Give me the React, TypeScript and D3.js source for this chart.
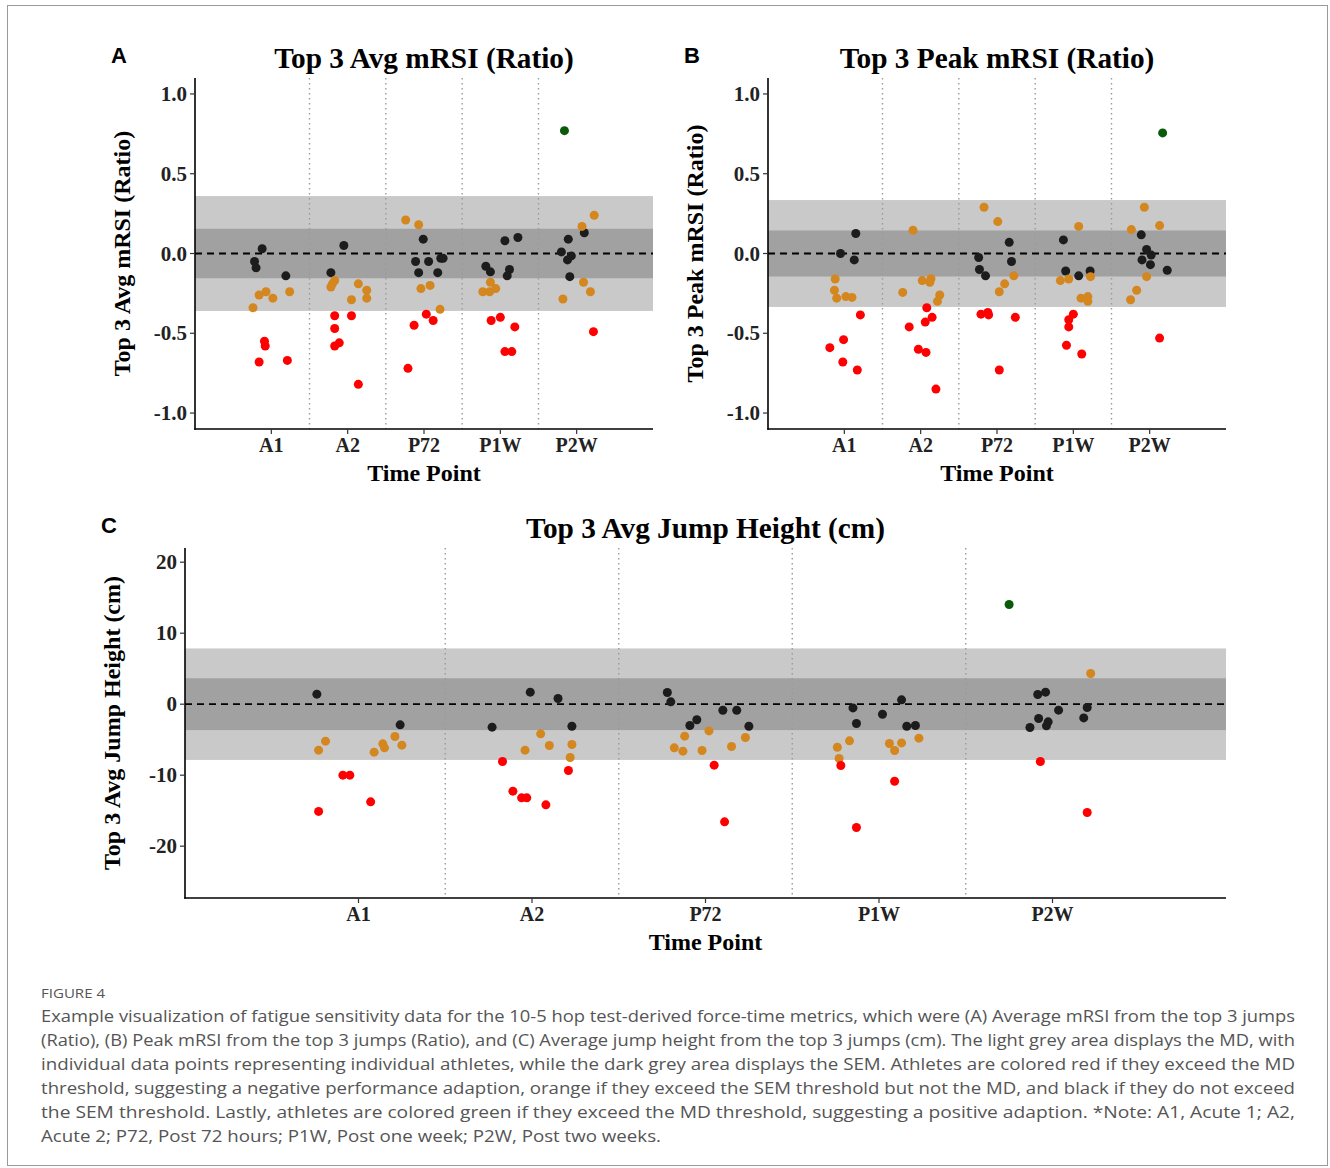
import React from "react";
import * as d3 from "d3";

type Status = "neg" | "sem" | "ns" | "pos";
type Pt = [string, number, number, Status];

const timePoints = ["A1", "A2", "P72", "P1W", "P2W"];

// [time point, horizontal jitter (category units), value, status]
const avgMrsiPoints: Pt[] = [
  ["A1", -0.12, 0.03, "ns"], ["A1", -0.22, -0.05, "ns"], ["A1", -0.2, -0.09, "ns"], ["A1", 0.19, -0.14, "ns"],
  ["A1", -0.24, -0.34, "sem"], ["A1", -0.16, -0.26, "sem"], ["A1", -0.07, -0.24, "sem"], ["A1", 0.02, -0.28, "sem"], ["A1", 0.24, -0.24, "sem"],
  ["A1", -0.09, -0.55, "neg"], ["A1", -0.08, -0.58, "neg"], ["A1", -0.16, -0.68, "neg"], ["A1", 0.21, -0.67, "neg"],
  ["A2", -0.22, -0.12, "ns"], ["A2", -0.05, 0.05, "ns"],
  ["A2", -0.17, -0.17, "sem"], ["A2", -0.2, -0.19, "sem"], ["A2", -0.22, -0.21, "sem"], ["A2", 0.14, -0.19, "sem"], ["A2", 0.05, -0.29, "sem"], ["A2", 0.25, -0.23, "sem"], ["A2", 0.25, -0.28, "sem"],
  ["A2", -0.17, -0.39, "neg"], ["A2", -0.17, -0.47, "neg"], ["A2", 0.05, -0.39, "neg"], ["A2", -0.17, -0.58, "neg"], ["A2", -0.11, -0.56, "neg"], ["A2", 0.14, -0.82, "neg"],
  ["P72", -0.24, 0.21, "sem"], ["P72", -0.07, 0.18, "sem"],
  ["P72", -0.01, 0.09, "ns"], ["P72", -0.11, -0.05, "ns"], ["P72", 0.06, -0.05, "ns"], ["P72", 0.22, -0.03, "ns"], ["P72", 0.25, -0.03, "ns"], ["P72", -0.07, -0.12, "ns"], ["P72", 0.18, -0.12, "ns"],
  ["P72", -0.04, -0.22, "sem"], ["P72", 0.08, -0.2, "sem"], ["P72", 0.21, -0.35, "sem"],
  ["P72", 0.03, -0.38, "neg"], ["P72", 0.12, -0.42, "neg"], ["P72", -0.13, -0.45, "neg"], ["P72", -0.21, -0.72, "neg"],
  ["P1W", 0.06, 0.08, "ns"], ["P1W", 0.23, 0.1, "ns"], ["P1W", -0.19, -0.08, "ns"], ["P1W", -0.13, -0.115, "ns"], ["P1W", 0.12, -0.1, "ns"], ["P1W", 0.09, -0.14, "ns"],
  ["P1W", -0.13, -0.18, "sem"], ["P1W", -0.23, -0.24, "sem"], ["P1W", -0.14, -0.24, "sem"], ["P1W", -0.06, -0.22, "sem"],
  ["P1W", -0.12, -0.42, "neg"], ["P1W", 0.0, -0.4, "neg"], ["P1W", 0.19, -0.46, "neg"], ["P1W", 0.06, -0.615, "neg"], ["P1W", 0.15, -0.615, "neg"],
  ["P2W", -0.16, 0.77, "pos"], ["P2W", 0.23, 0.24, "sem"], ["P2W", 0.07, 0.17, "sem"],
  ["P2W", 0.1, 0.13, "ns"], ["P2W", -0.11, 0.09, "ns"], ["P2W", -0.2, 0.01, "ns"], ["P2W", -0.07, -0.015, "ns"], ["P2W", -0.12, -0.04, "ns"], ["P2W", -0.09, -0.145, "ns"],
  ["P2W", 0.09, -0.18, "sem"], ["P2W", 0.18, -0.24, "sem"], ["P2W", -0.18, -0.285, "sem"],
  ["P2W", 0.22, -0.49, "neg"],
];

const peakMrsiPoints: Pt[] = [
  ["A1", -0.05, 0.0, "ns"], ["A1", 0.15, 0.125, "ns"], ["A1", 0.13, -0.04, "ns"],
  ["A1", -0.12, -0.16, "sem"], ["A1", -0.13, -0.23, "sem"], ["A1", -0.1, -0.28, "sem"], ["A1", 0.02, -0.27, "sem"], ["A1", 0.1, -0.275, "sem"],
  ["A1", 0.21, -0.385, "neg"], ["A1", -0.01, -0.54, "neg"], ["A1", -0.19, -0.59, "neg"], ["A1", -0.02, -0.68, "neg"], ["A1", 0.17, -0.73, "neg"],
  ["A2", -0.1, 0.146, "sem"], ["A2", -0.235, -0.244, "sem"], ["A2", 0.02, -0.17, "sem"], ["A2", 0.135, -0.158, "sem"], ["A2", 0.12, -0.18, "sem"], ["A2", 0.25, -0.26, "sem"], ["A2", 0.22, -0.3, "sem"],
  ["A2", 0.08, -0.34, "neg"], ["A2", 0.15, -0.4, "neg"], ["A2", 0.06, -0.43, "neg"], ["A2", -0.15, -0.46, "neg"], ["A2", -0.03, -0.6, "neg"], ["A2", 0.07, -0.62, "neg"], ["A2", 0.2, -0.85, "neg"],
  ["P72", -0.17, 0.29, "sem"], ["P72", 0.01, 0.2, "sem"],
  ["P72", 0.16, 0.07, "ns"], ["P72", -0.24, -0.025, "ns"], ["P72", 0.19, -0.05, "ns"], ["P72", -0.23, -0.1, "ns"], ["P72", -0.15, -0.14, "ns"],
  ["P72", 0.22, -0.14, "sem"], ["P72", 0.1, -0.19, "sem"], ["P72", 0.03, -0.24, "sem"],
  ["P72", -0.21, -0.38, "neg"], ["P72", -0.12, -0.37, "neg"], ["P72", -0.11, -0.385, "neg"], ["P72", 0.24, -0.4, "neg"], ["P72", 0.03, -0.73, "neg"],
  ["P1W", 0.07, 0.17, "sem"],
  ["P1W", -0.13, 0.085, "ns"], ["P1W", -0.1, -0.11, "ns"], ["P1W", 0.07, -0.14, "ns"], ["P1W", 0.22, -0.11, "ns"],
  ["P1W", -0.17, -0.17, "sem"], ["P1W", -0.06, -0.16, "sem"], ["P1W", 0.225, -0.145, "sem"], ["P1W", 0.1, -0.28, "sem"], ["P1W", 0.19, -0.27, "sem"], ["P1W", 0.19, -0.3, "sem"],
  ["P1W", 0.0, -0.38, "neg"], ["P1W", -0.06, -0.415, "neg"], ["P1W", -0.06, -0.46, "neg"], ["P1W", -0.09, -0.575, "neg"], ["P1W", 0.11, -0.63, "neg"],
  ["P2W", 0.17, 0.756, "pos"], ["P2W", -0.07, 0.29, "sem"], ["P2W", -0.24, 0.15, "sem"], ["P2W", 0.13, 0.175, "sem"],
  ["P2W", -0.11, 0.117, "ns"], ["P2W", -0.04, 0.025, "ns"], ["P2W", 0.02, -0.01, "ns"], ["P2W", -0.1, -0.04, "ns"], ["P2W", 0.01, -0.07, "ns"], ["P2W", 0.23, -0.105, "ns"],
  ["P2W", -0.04, -0.145, "sem"], ["P2W", -0.17, -0.23, "sem"], ["P2W", -0.25, -0.29, "sem"],
  ["P2W", 0.13, -0.53, "neg"],
];

const jumpHeightPoints: Pt[] = [
  ["A1", -0.24, 1.41, "ns"], ["A1", 0.24, -2.91, "ns"],
  ["A1", -0.23, -6.48, "sem"], ["A1", -0.19, -5.21, "sem"], ["A1", 0.09, -6.76, "sem"], ["A1", 0.14, -5.59, "sem"], ["A1", 0.15, -6.15, "sem"], ["A1", 0.21, -4.55, "sem"], ["A1", 0.25, -5.77, "sem"],
  ["A1", -0.09, -10.0, "neg"], ["A1", -0.05, -10.0, "neg"], ["A1", 0.07, -13.76, "neg"], ["A1", -0.23, -15.1, "neg"],
  ["A2", -0.23, -3.24, "ns"], ["A2", -0.01, 1.69, "ns"], ["A2", 0.15, 0.8, "ns"], ["A2", 0.23, -3.1, "ns"],
  ["A2", -0.04, -6.48, "sem"], ["A2", 0.05, -4.18, "sem"], ["A2", 0.1, -5.82, "sem"], ["A2", 0.23, -5.68, "sem"], ["A2", 0.22, -7.51, "sem"],
  ["A2", -0.17, -8.08, "neg"], ["A2", -0.11, -12.25, "neg"], ["A2", -0.06, -13.19, "neg"], ["A2", -0.03, -13.19, "neg"], ["A2", 0.08, -14.18, "neg"], ["A2", 0.21, -9.34, "neg"],
  ["P72", -0.22, 1.64, "ns"], ["P72", -0.2, 0.33, "ns"], ["P72", -0.09, -3.0, "ns"], ["P72", -0.05, -2.2, "ns"], ["P72", 0.1, -0.85, "ns"], ["P72", 0.18, -0.85, "ns"], ["P72", 0.25, -3.1, "ns"],
  ["P72", -0.18, -6.15, "sem"], ["P72", -0.13, -6.62, "sem"], ["P72", -0.12, -4.5, "sem"], ["P72", -0.02, -6.53, "sem"], ["P72", 0.02, -3.76, "sem"], ["P72", 0.15, -5.96, "sem"], ["P72", 0.23, -4.69, "sem"],
  ["P72", 0.05, -8.59, "neg"], ["P72", 0.11, -16.57, "neg"],
  ["P1W", -0.15, -0.52, "ns"], ["P1W", -0.13, -2.72, "ns"], ["P1W", 0.02, -1.41, "ns"], ["P1W", 0.13, 0.61, "ns"], ["P1W", 0.16, -3.1, "ns"], ["P1W", 0.21, -3.0, "ns"],
  ["P1W", -0.24, -6.06, "sem"], ["P1W", -0.23, -7.65, "sem"], ["P1W", -0.17, -5.16, "sem"], ["P1W", 0.06, -5.54, "sem"], ["P1W", 0.09, -6.53, "sem"], ["P1W", 0.13, -5.45, "sem"], ["P1W", 0.23, -4.79, "sem"],
  ["P1W", -0.22, -8.64, "neg"], ["P1W", 0.09, -10.85, "neg"], ["P1W", -0.13, -17.37, "neg"],
  ["P2W", -0.25, 14.04, "pos"], ["P2W", 0.22, 4.32, "sem"],
  ["P2W", -0.085, 1.36, "ns"], ["P2W", -0.04, 1.69, "ns"], ["P2W", 0.035, -0.84, "ns"], ["P2W", -0.08, -2.01, "ns"], ["P2W", -0.025, -2.49, "ns"], ["P2W", -0.035, -3.05, "ns"], ["P2W", -0.13, -3.28, "ns"], ["P2W", 0.2, -0.46, "ns"], ["P2W", 0.18, -1.93, "ns"],
  ["P2W", -0.07, -8.08, "neg"], ["P2W", 0.2, -15.26, "neg"],
];

// thresholds: [MD, SEM]
const avgMrsiThresholds = [0.36, 0.155];
const peakMrsiThresholds = [0.335, 0.144];
const jumpHeightThresholds = [7.85, 3.65];

const mrsiTicks = [-1, -0.5, 0, 0.5, 1];
const jumpTicks = [-20, -10, 0, 10, 20];
const mrsiDomain = [-1.1, 1.1];
const jumpDomain = [-27.3, 22];

const captionLines = [
  "Example visualization of fatigue sensitivity data for the 10-5 hop test-derived force-time metrics, which were (A) Average mRSI from the top 3 jumps",
  "(Ratio), (B) Peak mRSI from the top 3 jumps (Ratio), and (C) Average jump height from the top 3 jumps (cm). The light grey area displays the MD, with",
  "individual data points representing individual athletes, while the dark grey area displays the SEM. Athletes are colored red if they exceed the MD",
  "threshold, suggesting a negative performance adaption, orange if they exceed the SEM threshold but not the MD, and black if they do not exceed",
  "the SEM threshold. Lastly, athletes are colored green if they exceed the MD threshold, suggesting a positive adaption. *Note: A1, Acute 1; A2,",
  "Acute 2; P72, Post 72 hours; P1W, Post one week; P2W, Post two weeks.",
];

const statusColor: Record<Status, string> = {
  neg: "#ff0000",
  sem: "#d4861f",
  ns: "#1c1c1c",
  pos: "#0a5a0a",
};

const SERIF = "'Liberation Serif', 'Times New Roman', serif";

interface PanelProps {
  left: number; right: number; top: number; bottom: number;
  domain: number[]; ticks: number[]; fmt: (v: number) => string;
  title: string; ylabel: string; letter: string;
  points: Pt[]; thresholds: number[];
}

function Panel(p: PanelProps) {
  const x = d3.scaleLinear().domain([0, timePoints.length + 1]).range([p.left, p.right]);
  const y = d3.scaleLinear().domain(p.domain).range([p.bottom, p.top]);
  const [md, sem] = p.thresholds;
  const cx = (p.left + p.right) / 2;
  const cy = (p.top + p.bottom) / 2;
  const order: Record<Status, number> = { ns: 0, sem: 1, neg: 2, pos: 3 };
  return (
    <g>
      <text x={p.left - 84} y={p.top - 15} fontFamily="'Liberation Sans', Arial, sans-serif" fontWeight="bold" fontSize={22}>{p.letter}</text>
      <text x={cx} y={p.top - 10} textAnchor="middle" fontFamily={SERIF} fontWeight="bold" fontSize={29.3}>{p.title}</text>
      <rect x={p.left} width={p.right - p.left} y={y(md)} height={y(-md) - y(md)} fill="#c9c9c9" />
      <rect x={p.left} width={p.right - p.left} y={y(sem)} height={y(-sem) - y(sem)} fill="#a1a1a1" />
      {d3.range(1, timePoints.length).map((i) => (
        <line key={i} x1={x(i + 0.5)} x2={x(i + 0.5)} y1={p.top} y2={p.bottom} stroke="#9a9a9a" strokeWidth={1.4} strokeDasharray="1.4 3.6" />
      ))}
      <line x1={p.left} x2={p.right} y1={y(0)} y2={y(0)} stroke="#000" strokeWidth={1.8} strokeDasharray="7 5" />
      {[...p.points].sort((a, b) => order[a[3]] - order[b[3]]).map((d, i) => (
        <circle key={i} cx={x(timePoints.indexOf(d[0]) + 1 + d[1])} cy={y(d[2])} r={4.5} fill={statusColor[d[3]]} />
      ))}
      <line x1={p.left} x2={p.left} y1={p.top} y2={p.bottom + 0.75} stroke="#000" strokeWidth={1.6} />
      <line x1={p.left - 0.75} x2={p.right} y1={p.bottom} y2={p.bottom} stroke="#000" strokeWidth={1.6} />
      {p.ticks.map((t) => (
        <g key={t}>
          <line x1={p.left - 5} x2={p.left} y1={y(t)} y2={y(t)} stroke="#333" strokeWidth={1.2} />
          <text x={p.left - 8} y={y(t) + 7} textAnchor="end" fontFamily={SERIF} fontWeight="bold" fontSize={21} fill="#222">{p.fmt(t)}</text>
        </g>
      ))}
      {timePoints.map((tp, i) => (
        <g key={tp}>
          <line x1={x(i + 1)} x2={x(i + 1)} y1={p.bottom} y2={p.bottom + 5} stroke="#333" strokeWidth={1.2} />
          <text x={x(i + 1)} y={p.bottom + 23} textAnchor="middle" fontFamily={SERIF} fontWeight="bold" fontSize={20} fill="#222">{tp}</text>
        </g>
      ))}
      <text x={cx} y={p.bottom + 52} textAnchor="middle" fontFamily={SERIF} fontWeight="bold" fontSize={24}>Time Point</text>
      <text transform={`translate(${p.left - 65},${cy}) rotate(-90)`} textAnchor="middle" fontFamily={SERIF} fontWeight="bold" fontSize={24}>{p.ylabel}</text>
    </g>
  );
}

export default function App() {
  const fmtMrsi = (v: number) => d3.format(".1f")(v).replace("−", "-");
  const fmtJump = (v: number) => d3.format("d")(v).replace("−", "-");
  return (
    <svg width={1330} height={1168} style={{ position: "absolute", left: 0, top: 0, background: "#fff" }}>
      <rect x={7.5} y={5.5} width={1320} height={1160} fill="#fff" stroke="#9a9a9a" strokeWidth={1} />
      <Panel left={195} right={653} top={78} bottom={429} domain={mrsiDomain} ticks={mrsiTicks} fmt={fmtMrsi}
        title="Top 3 Avg mRSI (Ratio)" ylabel="Top 3 Avg mRSI (Ratio)" letter="A" points={avgMrsiPoints} thresholds={avgMrsiThresholds} />
      <Panel left={768} right={1226} top={78} bottom={429} domain={mrsiDomain} ticks={mrsiTicks} fmt={fmtMrsi}
        title="Top 3 Peak mRSI (Ratio)" ylabel="Top 3 Peak mRSI (Ratio)" letter="B" points={peakMrsiPoints} thresholds={peakMrsiThresholds} />
      <Panel left={185} right={1226} top={548} bottom={898} domain={jumpDomain} ticks={jumpTicks} fmt={fmtJump}
        title="Top 3 Avg Jump Height (cm)" ylabel="Top 3 Avg Jump Height (cm)" letter="C" points={jumpHeightPoints} thresholds={jumpHeightThresholds} />
      <text x={41} y={998} fontFamily="'Open Sans', sans-serif" fontSize={13} fill="#555" textLength={64} lengthAdjust="spacingAndGlyphs">FIGURE 4</text>
      {captionLines.map((line, i) => (
        <text key={i} x={41} y={1022 + i * 24} fontFamily="'Open Sans', sans-serif" fontSize={16.5} fill="#555"
          textLength={i < captionLines.length - 1 ? 1254 : 620} lengthAdjust="spacingAndGlyphs">{line}</text>
      ))}
    </svg>
  );
}
